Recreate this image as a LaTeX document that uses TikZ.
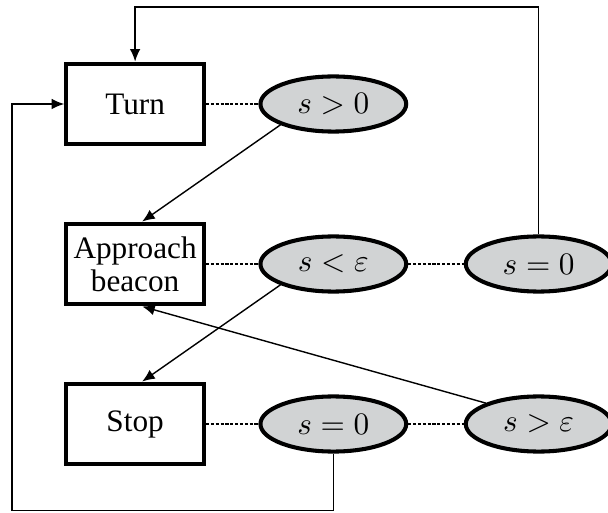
\documentclass[tikz,border=0pt]{standalone}
\usepackage{fontspec}
\setmainfont{Liberation Serif}
\usepackage{tikz}
\usetikzlibrary{arrows.meta,shapes.geometric}
\definecolor{condgray}{HTML}{D1D3D4}

\tikzset{
  behav/.style={draw, line width=1.3pt, minimum width=1.55cm, minimum height=0.91cm,
    inner sep=1pt, align=center, font=\fontsize{10pt}{10.5pt}\selectfont},
  cond/.style={ellipse, draw, line width=1.3pt, fill=condgray,
    minimum width=1.64cm, minimum height=0.62cm, inner sep=0pt},
  link/.style={line width=0.5pt, dash pattern=on 1pt off 0.55pt},
}

\begin{document}
\begin{tikzpicture}[>={Latex[length=4pt,width=3.4pt]}, line width=0.45pt]
  \useasboundingbox (0,0) rectangle (6.84,5.77);
  % behaviours
  \node[behav] (turn) at (1.52,4.6) {Turn};
  \node[behav] (approach) at (1.52,2.8) {Approach\\beacon};
  \node[behav] (stop) at (1.52,1.0) {Stop};
  % conditions
  \node[cond] (gtzero) at (3.75,4.6) {$s>0$};
  \node[cond] (lteps) at (3.75,2.8) {$s<\varepsilon$};
  \node[cond] (zeroA) at (6.06,2.8) {$s=0$};
  \node[cond] (zeroB) at (3.75,1.0) {$s=0$};
  \node[cond] (gteps) at (6.06,1.0) {$s>\varepsilon$};
  \coordinate (topline) at (0,5.69);
  \coordinate (botline) at (0.135,0.025);
  % dotted links
  \draw[link] (turn) -- (gtzero);
  \draw[link] (approach) -- (lteps) -- (zeroA);
  \draw[link] (stop) -- (zeroB) -- (gteps);
  % transitions
  \draw[->] (gtzero.south west) -- ([xshift=0.08cm]approach.north);
  \draw[->] (lteps.south west) -- ([xshift=0.08cm]stop.north);
  \draw[->] (gteps.north west) -- ([xshift=0.08cm]approach.south);
  \draw[->] (zeroA.north) |- (topline -| turn.north) -- (turn.north);
  \draw[->] (zeroB.south) |- (botline) |- (turn.west);
\end{tikzpicture}
\end{document}
